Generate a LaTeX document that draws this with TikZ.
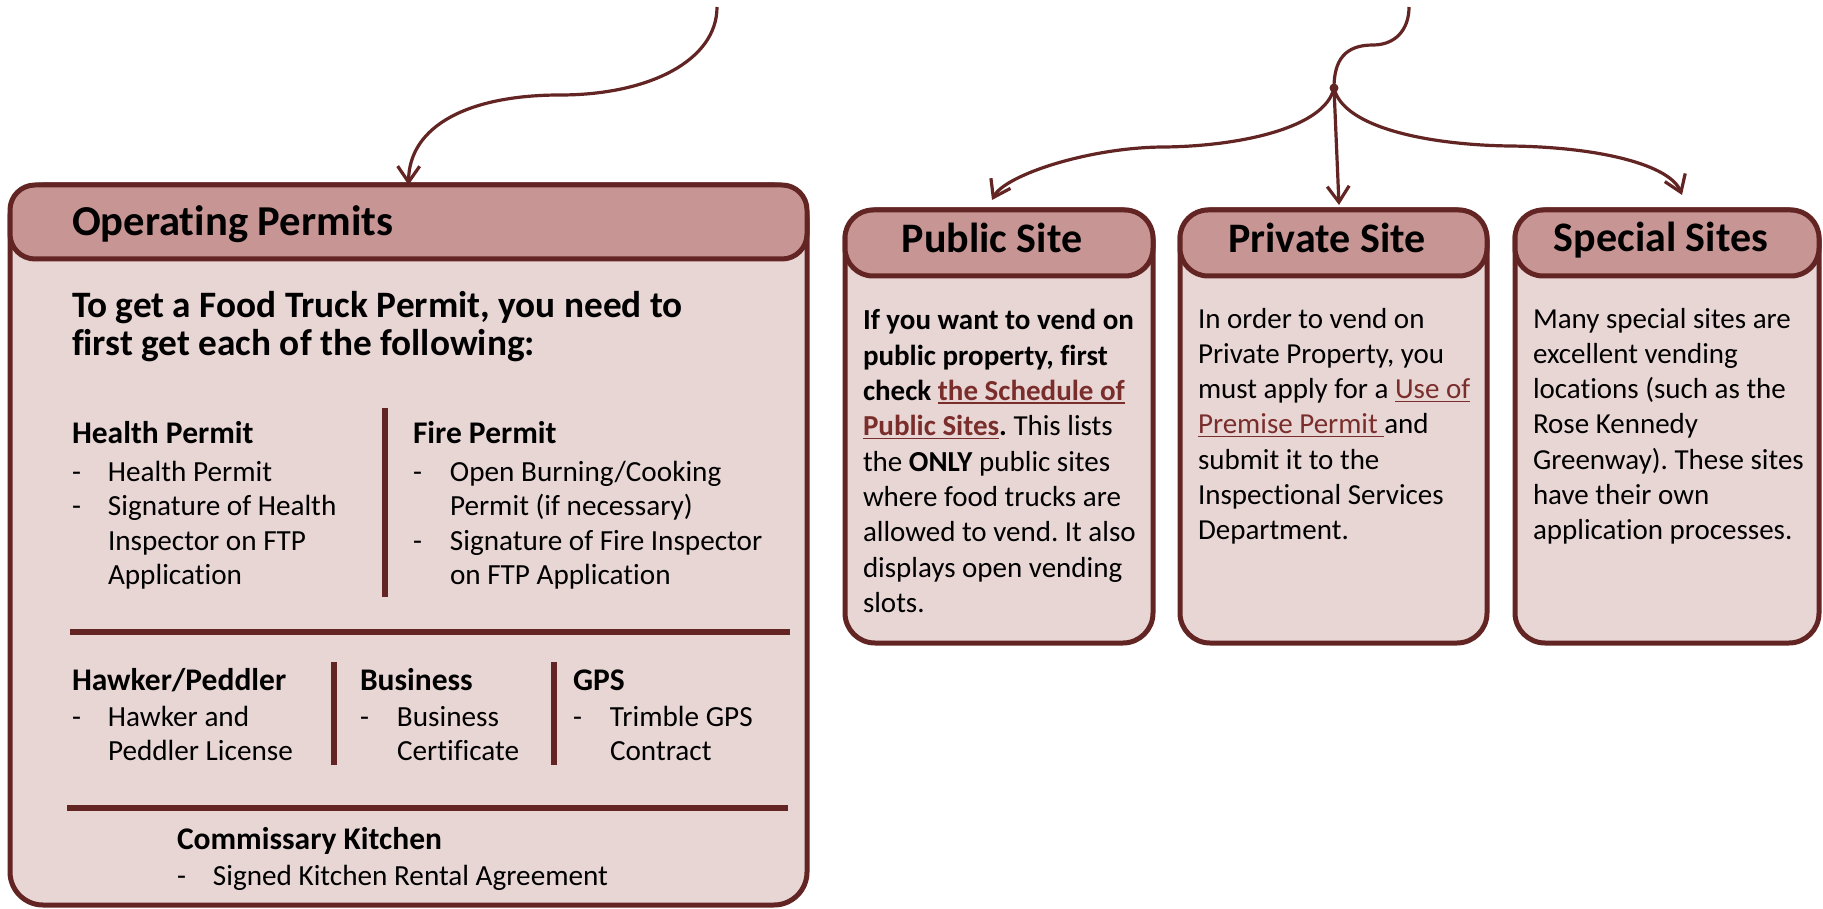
\documentclass[tikz,border=0pt]{standalone}
\usepackage{fontspec}
\setmainfont{Carlito}[Ligatures=NoCommon]
\usetikzlibrary{arrows.meta,calc}
\definecolor{maroon}{HTML}{632523}
\definecolor{headfill}{HTML}{C79594}
\definecolor{bodyfill}{HTML}{E8D6D5}
\definecolor{linkc}{HTML}{7A2E2C}
\frenchspacing
\newlength{\lnkw}
\newcommand{\lnk}[1]{\settowidth{\lnkw}{#1}\textcolor{linkc}{\rlap{\rule[-3.5pt]{\lnkw}{1.6pt}}#1}}
\newcommand{\dsh}{\makebox[36pt][l]{-}}
\newcommand{\ind}{\hspace*{36pt}}
\tikzset{
  every node/.style={inner sep=0pt, outer sep=0pt},
  bodybox/.style={rectangle, draw=maroon, fill=bodyfill, line width=5pt, rounded corners=30pt},
  headbox/.style={rectangle, draw=maroon, fill=headfill, line width=5pt, rounded corners=28pt},
  connline/.style={draw=maroon, line width=3.2pt},
  conn/.style={connline, -{Straight Barb[length=16pt,width=22pt]}},
  sepline/.style={draw=maroon, line width=6.5pt},
  hubdot/.style={circle, fill=maroon, minimum size=9pt},
  ttl/.style={anchor=base, font=\fontsize{42}{50}\selectfont\bfseries},
  intro/.style={anchor=base west, text width=700pt, align=flush left, font=\fontsize{37.3}{37}\selectfont\bfseries},
  sub/.style={anchor=base west, font=\fontsize{31.5}{38}\selectfont\bfseries},
  itm/.style={anchor=base west, text width=460pt, align=flush left, font=\fontsize{29.2}{34.5}\selectfont},
  bodytxt/.style={anchor=base west, text width=320pt, align=flush left, font=\fontsize{29}{35.3}\selectfont},
}
\begin{document}
\begin{tikzpicture}[x=1pt,y=-1pt]
\useasboundingbox (0,0) rectangle (1823,909);
\fill[white] (0,0) rectangle (1823,909);

% ---------- Operating permits box ----------
\node[bodybox, rounded corners=33pt, minimum width=797pt, minimum height=720pt] (opbox) at (408.5,545) {};
\node[headbox, rounded corners=25pt, minimum width=797pt, minimum height=74pt] (ophead) at (408.5,222) {};
\node[ttl, anchor=base west, font=\fontsize{42.6}{50}\selectfont\bfseries] (optitle) at (72,236) {Operating Permits};
\node[intro] (optext) at (72,318) {To get a Food Truck Permit, you need to\\first get each of the following:};

\node[sub] (healthh) at (72,443) {Health Permit};
\node[itm] (healthi) at (72,481) {\dsh Health Permit\\\dsh Signature of Health\\\ind Inspector on FTP\\\ind Application};
\node[sub] (fireh) at (413,443) {Fire Permit};
\node[itm] (firei) at (413,481) {\makebox[37pt][l]{-}Open Burning/Cooking\\\hspace*{37pt}Permit (if necessary)\\\makebox[37pt][l]{-}Signature of Fire Inspector\\\hspace*{37pt}on FTP Application};
\draw[sepline] (385,408) -- (385,597);
\draw[sepline] (70,632) -- (790,632);

\node[sub] (hawkh) at (72,690) {Hawker/Peddler};
\node[itm] (hawki) at (72,726) {\dsh Hawker and\\\ind Peddler License};
\node[sub] (bush) at (360,690) {Business};
\node[itm] (busi) at (360,726) {\makebox[37pt][l]{-}Business\\\hspace*{37pt}Certificate};
\node[sub] (gpsh) at (573,690) {GPS};
\node[itm] (gpsi) at (573,726) {\makebox[37pt][l]{-}Trimble GPS\\\hspace*{37pt}Contract};
\draw[sepline] (334,662) -- (334,765);
\draw[sepline] (554,662) -- (554,765);
\draw[sepline] (67,808) -- (788,808);

\node[sub] (kith) at (177,849) {Commissary Kitchen};
\node[itm] (kiti) at (177,885) {\dsh Signed Kitchen Rental Agreement};

% ---------- Site boxes ----------
\node[bodybox, minimum width=308pt, minimum height=433pt] (pubbox) at (999,426.5) {};
\node[headbox, minimum width=308pt, minimum height=66pt] (pubhead) at (999,243) {};
\node[ttl] (pubtitle) at (992,253) {Public Site};
\node[bodytxt] (pubtext) at (863,330) {\textbf{If you want to vend on}\\\textbf{public property, first}\\\textbf{check \lnk{the Schedule of}}\\\textbf{\lnk{Public Sites}.} This lists\\the \textbf{ONLY} public sites\\where food trucks are\\allowed to vend. It also\\displays open vending\\slots.};

\node[bodybox, minimum width=307pt, minimum height=433pt] (privbox) at (1333.5,426.5) {};
\node[headbox, minimum width=307pt, minimum height=66pt] (privhead) at (1333.5,243) {};
\node[ttl] (privtitle) at (1327,253) {Private Site};
\node[bodytxt] (privtext) at (1198,328) {In order to vend on\\Private Property, you\\must apply for a \lnk{Use of}\\\lnk{Premise Permit\ }and\\submit it to the\\Inspectional Services\\Department.};

\node[bodybox, minimum width=304pt, minimum height=433pt] (specbox) at (1667,426.5) {};
\node[headbox, minimum width=304pt, minimum height=66pt] (spechead) at (1667,243) {};
\node[ttl] (spectitle) at (1661,252) {Special Sites};
\node[bodytxt] (spectext) at (1533,328) {Many special sites are\\excellent vending\\locations (such as the\\Rose Kennedy\\Greenway). These sites\\have their own\\application processes.};

% ---------- Connectors ----------
\coordinate (lstart) at (717,7);
\coordinate (rstart) at (1409,7);
\node[hubdot] (hub) at (1334,88) {};
\coordinate (pubtip) at ($(pubhead.north)+(-7,-10)$);
\coordinate (privtip) at ($(privhead.north)+(5.5,-5)$);
\coordinate (spectip) at ($(spechead.north)+(15,-15)$);

\draw[conn] (lstart) .. controls (717,60) and (650,95) .. (560,95)
            .. controls (470,95) and (409,125) .. (ophead.north);
\draw[connline] (rstart) .. controls (1409,30) and (1395,45) .. (1373,45)
            .. controls (1345,45) and (1334,60) .. (hub.center);
\draw[conn] (hub.center) .. controls (1325,128) and (1240,146) .. (1165,147)
            .. controls (1090,147) and (1005,175) .. (pubtip);
\draw[conn] (hub.center) -- (privtip);
\draw[conn] (hub.center) .. controls (1343,128) and (1430,145) .. (1510,146)
            .. controls (1600,147) and (1670,165) .. (spectip);
\end{tikzpicture}
\end{document}
